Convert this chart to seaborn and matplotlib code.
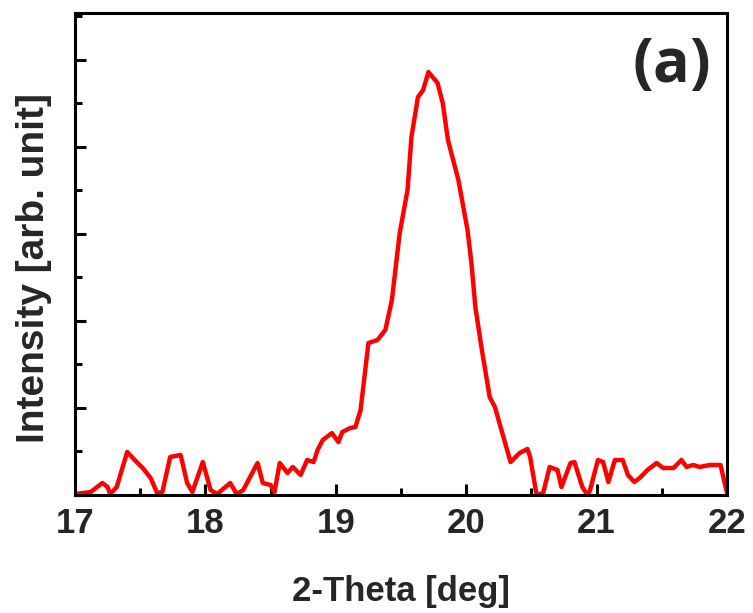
import pandas as pd
import matplotlib
matplotlib.use('Agg')
import matplotlib.pyplot as plt
import seaborn as sns
from matplotlib.ticker import MultipleLocator, NullFormatter

# XRD scan (2-theta in deg, intensity in arb. units)
two_theta = [17.00, 17.12, 17.21, 17.25, 17.27, 17.32, 17.40, 17.48, 17.52, 17.58,
             17.63, 17.67, 17.73, 17.81, 17.86, 17.90, 17.94, 17.98, 18.04, 18.09,
             18.19, 18.24, 18.29, 18.40, 18.44, 18.50, 18.53, 18.57, 18.63, 18.67,
             18.73, 18.78, 18.83, 18.86, 18.90, 18.97, 19.02, 19.05, 19.11, 19.15,
             19.19, 19.25, 19.32, 19.38, 19.43, 19.49, 19.55, 19.58, 19.63, 19.67,
             19.71, 19.78, 19.82, 19.86, 19.94, 20.01, 20.04, 20.07, 20.12, 20.18,
             20.22, 20.34, 20.41, 20.47, 20.49, 20.54, 20.59, 20.64, 20.70, 20.73,
             20.80, 20.83, 20.89, 20.93, 20.95, 21.01, 21.05, 21.09, 21.14, 21.20,
             21.24, 21.29, 21.33, 21.39, 21.46, 21.51, 21.59, 21.65, 21.69, 21.74,
             21.79, 21.87, 21.95, 22.00]
intensity = [11, 34, 138, 92, 11, 92, 494, 368, 310, 195,
             23, 34, 437, 460, 138, 34, 207, 379, 57, 11,
             138, 11, 57, 368, 138, 115, 34, 368, 253, 322,
             230, 402, 379, 517, 632, 712, 609, 724, 770, 781,
             977, 1747, 1782, 1897, 2241, 3011, 3505, 4114, 4574, 4655,
             4862, 4736, 4506, 4080, 3620, 3046, 2667, 2161, 1667, 1126,
             1011, 379, 483, 529, 437, 0, 23, 322, 287, 92,
             368, 379, 92, 0, 57, 402, 379, 149, 402, 402,
             230, 149, 195, 287, 368, 310, 310, 402, 322, 345,
             322, 345, 345, 23]

x_ticks = [17, 18, 19, 20, 21, 22]

df = pd.DataFrame({'two_theta': two_theta, 'intensity': intensity})

sns.set_style('white')
plt.rcParams['font.family'] = ['Liberation Sans', 'DejaVu Sans']

fig = plt.figure(figsize=(7.53, 6.13), dpi=100)
ax = fig.add_axes([0.0996, 0.1925, 0.8659, 0.7863])

sns.lineplot(data=df, x='two_theta', y='intensity', color='#ff0000',
             linewidth=3.2, ax=ax, sort=False)

ax.set_xlim(17, 22)
ax.set_ylim(0, 5540)
ax.set_xticks(x_ticks)
ax.set_xticklabels([str(t) for t in x_ticks])
ax.xaxis.set_minor_locator(MultipleLocator(0.5))
ax.yaxis.set_major_locator(MultipleLocator(1000))
ax.yaxis.set_minor_locator(MultipleLocator(500))
ax.yaxis.set_major_formatter(NullFormatter())

ax.tick_params(axis='both', which='both', direction='in', top=False, right=False,
               bottom=True, left=True, color='black')
ax.tick_params(axis='both', which='major', length=8, width=2.2)
ax.tick_params(axis='both', which='minor', length=5, width=2.2)
ax.tick_params(axis='x', which='major', labelsize=25, pad=9)
for lab in ax.get_xticklabels():
    lab.set_fontweight('bold')

for sp in ax.spines.values():
    sp.set_visible(True)
    sp.set_color('black')
    sp.set_linewidth(2.2)

ax.set_xlabel('2-Theta [deg]', fontsize=25, fontweight='bold', labelpad=25)
ax.set_ylabel('Intensity [arb. unit]', fontsize=28, fontweight='bold')
ax.yaxis.set_label_coords(-0.036, 0.471)

ax.text(0.915, 0.89, '(a)', transform=ax.transAxes, ha='center', va='center',
        fontsize=44, fontweight='bold', family=['Open Sans', 'DejaVu Sans'])

fig.savefig('out.png', dpi=100)
